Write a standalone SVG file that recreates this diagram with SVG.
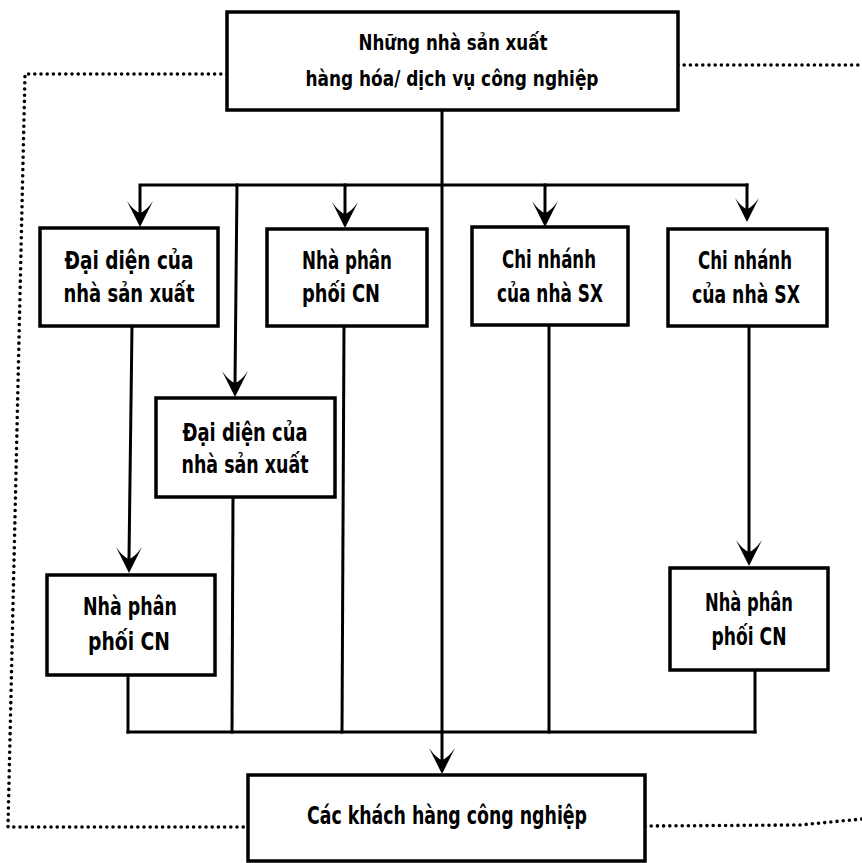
<svg xmlns="http://www.w3.org/2000/svg" xmlns:xlink="http://www.w3.org/1999/xlink" width="862" height="863" viewBox="0 0 862 863">
  <style>
    .box { fill: #fff; stroke: #000; stroke-width: 3.5; }
    .line { fill: none; stroke: #000; stroke-width: 3; stroke-linecap: square; }
    .dot { fill: none; stroke: #000; stroke-width: 3.6; stroke-linecap: round; stroke-dasharray: 0 6.2; }
    .head { fill: #000; stroke: none; }
    text { font-family: "DejaVu Sans Condensed", "DejaVu Sans", "Liberation Sans", sans-serif; font-weight: bold; fill: #000; text-anchor: middle; }
    .t { font-size: 24.5px; }
    .tt { font-size: 21.5px; }
  </style>
  <defs>
    <path id="arrow" class="head" d="M0,0 L-13,-26 Q-6,-16 0,-14 Q6,-16 13,-26 Z"/>
  </defs>
  <rect width="862" height="863" fill="#fff"/>

  <!-- connectors -->
  <g id="connectors">
    <!-- dotted feedback loops -->
    <polyline class="dot" points="227,74 25,74 8,827 248,827"/>
    <polyline class="dot" points="678,65 862,65"/>
    <polyline class="dot" points="645,826 800,825 862,819"/>

    <!-- main trunk -->
    <line class="line" x1="442" y1="110" x2="442" y2="760"/>
    <!-- distribution bus -->
    <polyline class="line" points="140,212 140,185 747,185"/>
    <line class="line" x1="237" y1="185" x2="235" y2="384"/>
    <line class="line" x1="345" y1="185" x2="345" y2="214"/>
    <line class="line" x1="545" y1="185" x2="545" y2="213"/>
    <line class="line" x1="747" y1="185" x2="747" y2="208"/>
    <!-- down links -->
    <line class="line" x1="132" y1="326" x2="129" y2="558"/>
    <line class="line" x1="749" y1="326" x2="749" y2="552"/>
    <!-- collector lines -->
    <line class="line" x1="128" y1="675" x2="128" y2="732"/>
    <line class="line" x1="233" y1="497" x2="232" y2="732"/>
    <line class="line" x1="344" y1="326" x2="342" y2="732"/>
    <line class="line" x1="549" y1="325" x2="549" y2="732"/>
    <line class="line" x1="755" y1="670" x2="755" y2="732"/>
    <line class="line" x1="128" y1="732" x2="755" y2="732"/>

    <!-- arrowheads -->
    <use xlink:href="#arrow" x="140" y="227"/>
    <use xlink:href="#arrow" x="345" y="228"/>
    <use xlink:href="#arrow" x="545" y="227"/>
    <use xlink:href="#arrow" transform="translate(747,222) scale(0.92)"/>
    <use xlink:href="#arrow" x="235" y="397"/>
    <use xlink:href="#arrow" x="129" y="573"/>
    <use xlink:href="#arrow" x="749" y="566"/>
    <use xlink:href="#arrow" x="442" y="774"/>
  </g>

  <g id="producers">
    <rect class="box" x="227" y="12" width="451" height="98"/>
    <text class="tt" x="453" y="50" textLength="189" lengthAdjust="spacingAndGlyphs">Những nhà sản xuất</text>
    <text class="tt" x="452" y="86" textLength="293" lengthAdjust="spacingAndGlyphs">hàng hóa/ dịch vụ công nghiệp</text>
  </g>

  <g id="rep1">
    <rect class="box" x="40" y="228" width="178" height="98"/>
    <text class="t" x="129" y="269" textLength="129" lengthAdjust="spacingAndGlyphs">Đại diện của</text>
    <text class="t" x="129" y="302" textLength="131" lengthAdjust="spacingAndGlyphs">nhà sản xuất</text>
  </g>

  <g id="dist1">
    <rect class="box" x="267" y="229" width="160" height="97"/>
    <text class="t" x="347" y="269" textLength="90" lengthAdjust="spacingAndGlyphs">Nhà phân</text>
    <text class="t" x="341" y="302" textLength="78" lengthAdjust="spacingAndGlyphs">phối CN</text>
  </g>

  <g id="branch1">
    <rect class="box" x="472" y="227" width="156" height="98"/>
    <text class="t" x="549" y="268" textLength="94" lengthAdjust="spacingAndGlyphs">Chi nhánh</text>
    <text class="t" x="550" y="302" textLength="106" lengthAdjust="spacingAndGlyphs">của nhà SX</text>
  </g>

  <g id="branch2">
    <rect class="box" x="668" y="229" width="159" height="97"/>
    <text class="t" x="745" y="269" textLength="94" lengthAdjust="spacingAndGlyphs">Chi nhánh</text>
    <text class="t" x="746" y="303" textLength="108" lengthAdjust="spacingAndGlyphs">của nhà SX</text>
  </g>

  <g id="rep2">
    <rect class="box" x="156" y="398" width="179" height="99"/>
    <text class="t" x="245" y="441" textLength="125" lengthAdjust="spacingAndGlyphs">Đại diện của</text>
    <text class="t" x="245" y="473" textLength="127" lengthAdjust="spacingAndGlyphs">nhà sản xuất</text>
  </g>

  <g id="dist2">
    <rect class="box" x="47" y="575" width="168" height="100"/>
    <text class="t" x="130" y="615" textLength="94" lengthAdjust="spacingAndGlyphs">Nhà phân</text>
    <text class="t" x="129" y="650" textLength="82" lengthAdjust="spacingAndGlyphs">phối CN</text>
  </g>

  <g id="dist3">
    <rect class="box" x="670" y="568" width="158" height="102"/>
    <text class="t" x="749" y="611" textLength="88" lengthAdjust="spacingAndGlyphs">Nhà phân</text>
    <text class="t" x="749" y="645" textLength="75" lengthAdjust="spacingAndGlyphs">phối CN</text>
  </g>

  <g id="customers">
    <rect class="box" x="248" y="775" width="397" height="86"/>
    <text class="t" x="447" y="824" textLength="280" lengthAdjust="spacingAndGlyphs">Các khách hàng công nghiệp</text>
  </g>
</svg>
